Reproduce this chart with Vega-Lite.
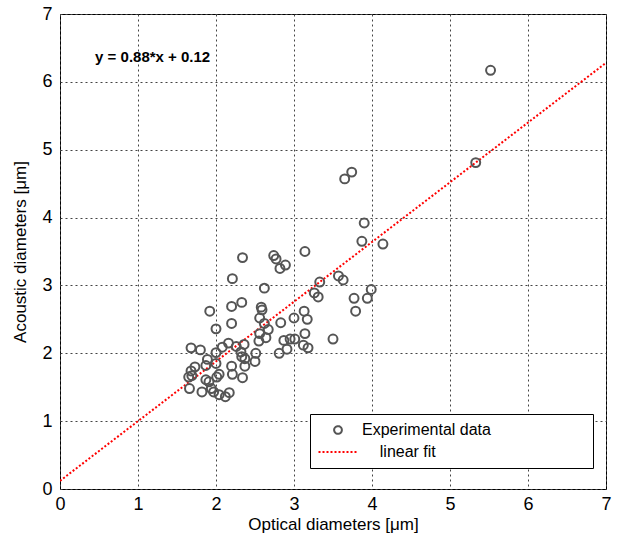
{
  "$schema": "https://vega.github.io/schema/vega-lite/v6.json",
  "width": 546,
  "height": 475,
  "autosize": "none",
  "padding": {"left": 60, "top": 14, "right": 12, "bottom": 49},
  "background": "white",
  "config": {
    "font": "Liberation Sans",
    "view": {"stroke": "black", "strokeWidth": 1},
    "axis": {
      "domain": false,
      "ticks": false,
      "grid": true,
      "gridColor": "#444444",
      "gridDash": [2, 3],
      "gridOpacity": 1,
      "gridWidth": 1,
      "labelFont": "Liberation Sans",
      "labelFontSize": 18,
      "labelColor": "black",
      "labelFlush": false,
      "format": "d",
      "titleFont": "Liberation Sans",
      "titleFontSize": 17,
      "titleFontWeight": "normal",
      "titleColor": "black"
    }
  },
  "datasets": {
    "pts": [
      {"x": 2.34, "y": 3.41}, {"x": 2.74, "y": 3.44}, {"x": 2.77, "y": 3.39}, {"x": 2.89, "y": 3.30},
      {"x": 2.82, "y": 3.25}, {"x": 2.21, "y": 3.10}, {"x": 2.62, "y": 2.96}, {"x": 2.33, "y": 2.75},
      {"x": 2.20, "y": 2.69}, {"x": 1.92, "y": 2.62}, {"x": 2.58, "y": 2.68}, {"x": 2.59, "y": 2.64},
      {"x": 2.20, "y": 2.44}, {"x": 2.00, "y": 2.36}, {"x": 2.56, "y": 2.52}, {"x": 2.62, "y": 2.44},
      {"x": 2.83, "y": 2.45}, {"x": 3.00, "y": 2.52}, {"x": 2.67, "y": 2.35}, {"x": 2.56, "y": 2.29},
      {"x": 2.55, "y": 2.18}, {"x": 2.64, "y": 2.23}, {"x": 2.87, "y": 2.19}, {"x": 2.95, "y": 2.21},
      {"x": 3.01, "y": 2.21}, {"x": 2.91, "y": 2.06}, {"x": 2.81, "y": 2.00}, {"x": 1.68, "y": 2.08},
      {"x": 1.80, "y": 2.05}, {"x": 2.08, "y": 2.09}, {"x": 2.16, "y": 2.15}, {"x": 2.26, "y": 2.10},
      {"x": 2.36, "y": 2.13}, {"x": 2.32, "y": 2.02}, {"x": 2.00, "y": 2.01}, {"x": 2.33, "y": 1.95},
      {"x": 2.37, "y": 1.92}, {"x": 2.51, "y": 2.00}, {"x": 2.50, "y": 1.88}, {"x": 2.37, "y": 1.81},
      {"x": 2.20, "y": 1.81}, {"x": 2.21, "y": 1.69}, {"x": 2.34, "y": 1.64}, {"x": 1.89, "y": 1.91},
      {"x": 1.87, "y": 1.82}, {"x": 2.00, "y": 1.85}, {"x": 1.73, "y": 1.80}, {"x": 1.68, "y": 1.74},
      {"x": 1.65, "y": 1.65}, {"x": 1.69, "y": 1.67}, {"x": 2.04, "y": 1.69}, {"x": 2.01, "y": 1.65},
      {"x": 1.87, "y": 1.61}, {"x": 1.91, "y": 1.58}, {"x": 1.66, "y": 1.48}, {"x": 1.82, "y": 1.43},
      {"x": 1.94, "y": 1.48}, {"x": 1.97, "y": 1.43}, {"x": 2.04, "y": 1.39}, {"x": 2.12, "y": 1.36},
      {"x": 2.17, "y": 1.42}, {"x": 3.65, "y": 4.57}, {"x": 3.74, "y": 4.67}, {"x": 3.90, "y": 3.92},
      {"x": 3.87, "y": 3.65}, {"x": 4.14, "y": 3.61}, {"x": 3.14, "y": 3.50}, {"x": 3.57, "y": 3.14},
      {"x": 3.63, "y": 3.08}, {"x": 3.33, "y": 3.05}, {"x": 3.26, "y": 2.89}, {"x": 3.31, "y": 2.83},
      {"x": 3.77, "y": 2.81}, {"x": 3.99, "y": 2.94}, {"x": 3.94, "y": 2.81}, {"x": 3.79, "y": 2.62},
      {"x": 3.13, "y": 2.62}, {"x": 3.17, "y": 2.50}, {"x": 3.14, "y": 2.29}, {"x": 3.50, "y": 2.21},
      {"x": 3.12, "y": 2.12}, {"x": 3.18, "y": 2.08}, {"x": 5.52, "y": 6.17}, {"x": 5.33, "y": 4.81}
    ],
    "fit": [{"x": 0, "y": 0.12}, {"x": 7, "y": 6.28}],
    "eq": [{"x": 0.45, "y": 6.36, "label": "y = 0.88*x + 0.12"}]
  },
  "layer": [
    {
      "data": {"name": "fit"},
      "mark": {"type": "line", "strokeDash": [2, 2], "strokeWidth": 2, "clip": true},
      "encoding": {
        "x": {"field": "x", "type": "quantitative", "scale": {"domain": [0, 7], "nice": false}, "axis": {"values": [0, 1, 2, 3, 4, 5, 6, 7], "title": "Optical diameters [μm]", "labelPadding": 6, "titlePadding": 3}},
        "y": {"field": "y", "type": "quantitative", "scale": {"domain": [0, 7], "nice": false}, "axis": {"values": [0, 1, 2, 3, 4, 5, 6, 7], "title": "Acoustic diameters [μm]", "labelPadding": 8, "titlePadding": 12}},
        "color": {
          "datum": "linear fit",
          "scale": {"domain": ["Experimental data", "linear fit"], "range": ["#555555", "#ff0000"]},
          "legend": {
            "orient": "none",
            "legendX": 250,
            "legendY": 400,
            "title": null,
            "padding": 8,
            "rowPadding": 6,
            "labelOffset": 16,
            "symbolOffset": 12,
            "labelLimit": 400,
            "labelFontSize": 16,
            "labelFont": "Liberation Sans",
            "labelColor": "black",
            "strokeColor": "black",
            "fillColor": "white",
            "cornerRadius": 0,
            "symbolStrokeWidth": 2,
            "labelExpr": "datum.label === 'linear fit' ? '\u200b\u00a0\u00a0\u00a0\u00a0linear fit' : datum.label + '\u00a0\u00a0\u00a0\u00a0\u00a0\u00a0\u00a0\u00a0\u00a0\u00a0\u00a0\u00a0\u00a0\u00a0\u00a0\u00a0\u00a0\u00a0\u00a0\u00a0\u00a0\u200b'",
            "encode": {
              "symbols": {
                "update": {
                  "shape": {"signal": "datum.value === 'linear fit' ? 'stroke' : 'circle'"},
                  "size": {"signal": "datum.value === 'linear fit' ? 1521 : 60"},
                  "strokeDash": {"signal": "datum.value === 'linear fit' ? [2, 2] : [1, 0]"},
                  "fill": {"value": "transparent"}
                }
              }
            }
          }
        }
      }
    },
    {
      "data": {"name": "pts"},
      "mark": {"type": "point", "filled": false, "size": 80, "strokeWidth": 2, "opacity": 1},
      "encoding": {
        "x": {"field": "x", "type": "quantitative"},
        "y": {"field": "y", "type": "quantitative"},
        "color": {"datum": "Experimental data"}
      }
    },
    {
      "data": {"name": "eq"},
      "mark": {"type": "text", "fontWeight": "bold", "fontSize": 15, "align": "left", "baseline": "middle", "color": "black"},
      "encoding": {
        "x": {"field": "x", "type": "quantitative"},
        "y": {"field": "y", "type": "quantitative"},
        "text": {"field": "label"}
      }
    }
  ]
}
